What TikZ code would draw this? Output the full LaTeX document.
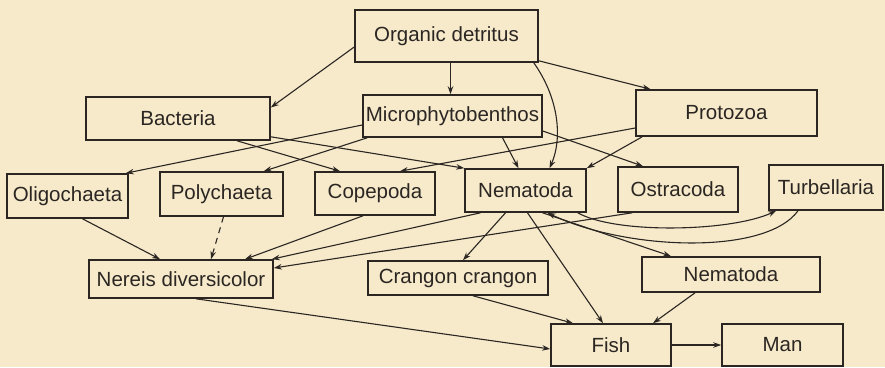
\documentclass[tikz,border=0pt]{standalone}
\usepackage{fontspec}
\setmainfont{Liberation Sans}
\usepackage{xcolor}
\usetikzlibrary{arrows.meta}
\definecolor{paper}{HTML}{F6EACB}
\definecolor{ink}{HTML}{2B2622}

\begin{document}
\begin{tikzpicture}[
    x=1pt, y=-1pt,
    box/.style={rectangle, draw=ink, line width=1.6pt, fill=paper, inner sep=0pt,
                font=\fontsize{20.5}{24}\selectfont, text=ink},
    arr/.style={-{Stealth[length=8pt,width=5.5pt]}, line width=1.1pt, draw=ink},
    dasharr/.style={arr, dash pattern=on 6pt off 5pt}
]
    \fill[paper] (0,0) rectangle (885,367);
    \useasboundingbox (0,0) rectangle (885,367);

    \node[box, minimum width=183pt, minimum height=52pt] (detritus) at (446.5,36)    {Organic detritus};
    \node[box, minimum width=184pt, minimum height=43pt] (bacteria) at (178,118.5)   {Bacteria};
    \node[box, minimum width=179pt, minimum height=42pt] (micro)    at (452.5,116)   {Microphytobenthos};
    \node[box, minimum width=181pt, minimum height=46pt] (protozoa) at (726.5,113)   {Protozoa};
    \node[box, minimum width=121pt, minimum height=44pt] (oligo)    at (67.5,196)    {Oligochaeta};
    \node[box, minimum width=123pt, minimum height=44pt] (poly)     at (221.5,194)   {Polychaeta};
    \node[box, minimum width=120pt, minimum height=43pt] (cope)     at (375,193.5)   {Copepoda};
    \node[box, minimum width=121pt, minimum height=43pt] (nema)     at (525.5,190.5) {Nematoda};
    \node[box, minimum width=120pt, minimum height=45pt] (ostra)    at (678,189.5)   {Ostracoda};
    \node[box, minimum width=114pt, minimum height=45pt] (turb)     at (826,187.5)   {Turbellaria};
    \node[box, minimum width=184pt, minimum height=38pt] (nereis)   at (181,279)     {Nereis diversicolor};
    \node[box, minimum width=180pt, minimum height=34pt] (crangon)  at (458,278)     {Crangon crangon};
    \node[box, minimum width=178pt, minimum height=35pt] (nemalow)  at (731,274.5)   {Nematoda};
    \node[box, minimum width=120pt, minimum height=42pt] (fish)     at (611,345)     {Fish};
    \node[box, minimum width=121pt, minimum height=42pt] (man)      at (782.5,345)   {Man};

    \draw[arr] ([yshift=-11pt]detritus.west) -- ([yshift=11pt]bacteria.east);
    \draw[arr] ([xshift=4pt]detritus.south) -- ([xshift=4pt]detritus.south |- micro.north);
    \draw[arr] ([xshift=-5pt]detritus.south east) .. controls (560,100) and (562,140) .. ([xshift=24pt]nema.north);
    \draw[arr] ([yshift=2pt]detritus.south east) -- ([xshift=-76pt]protozoa.north);

    \draw[arr] ([xshift=59pt]bacteria.south) -- ([xshift=-35pt]cope.north);
    \draw[arr] ([yshift=4pt]bacteria.south east) -- (nema.north west);
    \draw[arr] ([yshift=-9pt]micro.west) -- ([xshift=-3pt]oligo.north east);
    \draw[arr] ([xshift=5pt]micro.south west) -- ([xshift=-20pt]poly.north east);
    \draw[arr] ([xshift=50pt]micro.south) -- ([xshift=-7pt]nema.north);
    \draw[arr] ([yshift=-15pt]micro.east) -- ([xshift=-35pt]ostra.north);
    \draw[arr] ([yshift=-15pt]protozoa.west) -- ([xshift=25pt]cope.north);
    \draw[arr] ([xshift=7pt]protozoa.south west) -- (nema.north east);

    \draw[arr] ([xshift=15pt]oligo.south) -- ([xshift=-21pt]nereis.north);
    \draw[dasharr] ([xshift=2pt]poly.south) -- ([xshift=30pt]nereis.north);
    \draw[arr] ([xshift=-12pt]cope.south) -- ([xshift=64pt]nereis.north);
    \draw[arr] ([xshift=-45pt]nema.south) -- ([xshift=-2pt]nereis.north east);
    \draw[arr] ([xshift=15pt]ostra.south west) -- ([yshift=11pt]nereis.east);

    \draw[arr] ([xshift=-20pt]nema.south) -- ([xshift=5pt]crangon.north);
    \draw[arr] ([xshift=2pt]nema.south) -- ([xshift=-8pt]fish.north);
    \draw[arr] ([xshift=17pt]nema.south) -- ([xshift=-60pt]nemalow.north);
    \draw[arr] ([xshift=-9pt]nema.south east) .. controls (615,234) and (730,232) .. ([xshift=8pt]turb.south west);
    \draw[arr] ([xshift=-28pt]turb.south) .. controls (765,256) and (625,250) .. ([xshift=22pt]nema.south);

    \draw[arr] ([xshift=15pt]nereis.south) -- ([yshift=-4pt]fish.west);
    \draw[arr] ([xshift=15pt]crangon.south) -- ([xshift=-38pt]fish.north);
    \draw[arr] ([xshift=-36pt]nemalow.south) -- ([xshift=42pt]fish.north);
    \draw[arr] (fish.east) -- (man.west);
\end{tikzpicture}
\end{document}
